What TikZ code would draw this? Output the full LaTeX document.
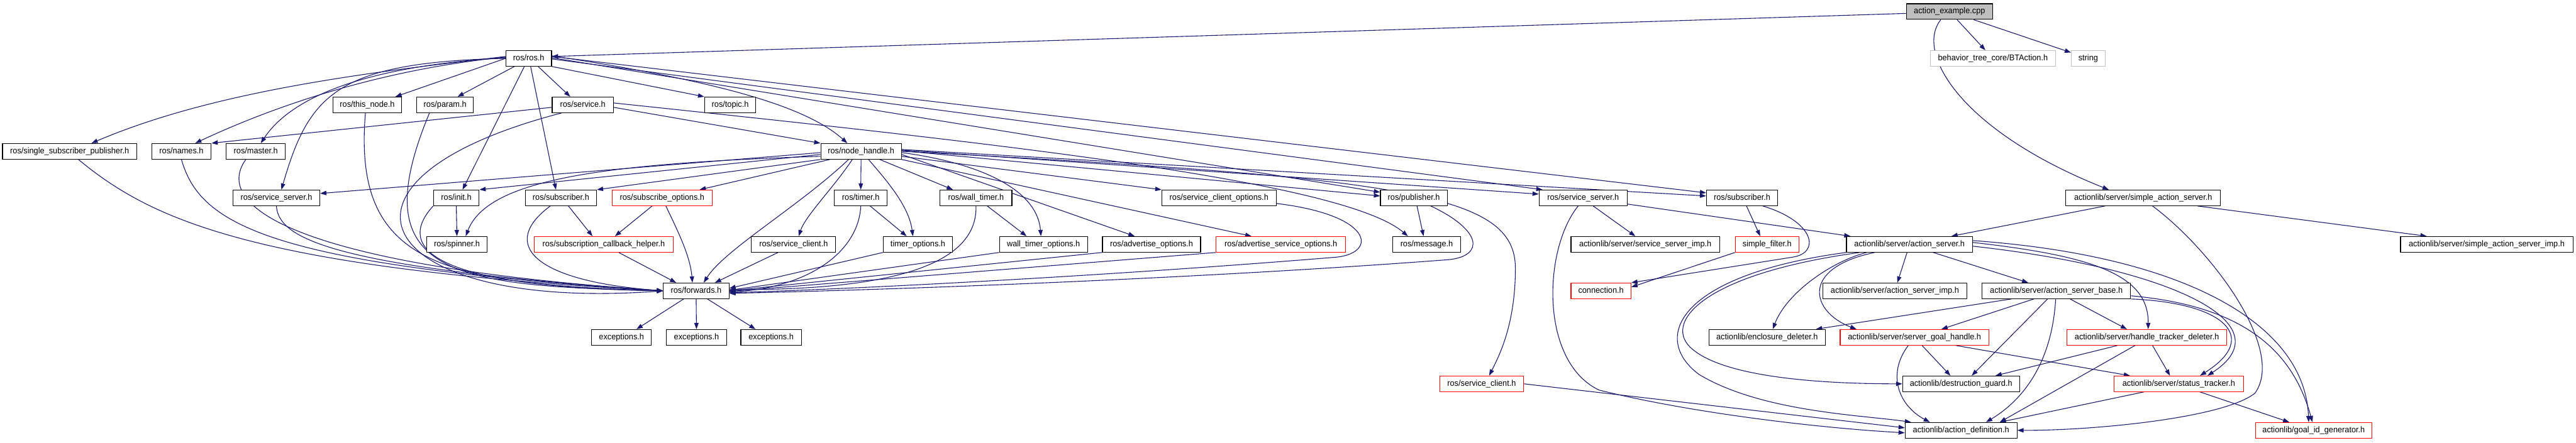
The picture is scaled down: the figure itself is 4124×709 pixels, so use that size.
\documentclass[tikz,border=0pt]{standalone}
\usepackage{fontspec}
\setmainfont{Liberation Sans}[FakeStretch=0.95]
\usetikzlibrary{arrows.meta}
\definecolor{edgeblue}{HTML}{191970}
\definecolor{rootgray}{HTML}{BFBFBF}
\definecolor{nodered}{HTML}{FF0000}
\pgfdeclarelayer{bg}
\pgfsetlayers{bg,main}
\begin{document}
\begin{tikzpicture}[x=1pt,y=-1pt,
  box/.style={draw=black, line width=1.1pt, fill=white, minimum height=25pt, inner sep=0pt,
    font=\fontsize{13.5pt}{16pt}\selectfont, text height=10pt, text depth=3pt},
  redbox/.style={box, draw=nodered},
  graybox/.style={box, draw=rootgray},
  rootbox/.style={box, fill=rootgray},
  e/.style={draw=edgeblue, line width=1.1pt, -{Triangle[length=10pt,width=7pt]}}]
\useasboundingbox (0,0) rectangle (4124,709);
% row 0
\node[rootbox, minimum width=138pt] (ex) at (3121,18.5) {action\_example.cpp};
% row 1
\node[box, minimum width=73pt] (ros) at (846.5,93.5) {ros/ros.h};
\node[graybox, minimum width=201pt] (bt) at (3190.5,93.5) {behavior\_tree\_core/BTAction.h};
\node[graybox, minimum width=54pt] (str) at (3343,93.5) {string};
% row 2
\node[box, minimum width=110pt] (thisnode) at (588,168) {ros/this\_node.h};
\node[box, minimum width=91pt] (param) at (712.5,168) {ros/param.h};
\node[box, minimum width=98pt] (service) at (933,168) {ros/service.h};
\node[box, minimum width=82pt] (topic) at (1169,168) {ros/topic.h};
% row 3
\node[box, minimum width=215pt] (ssp) at (111.5,242.5) {ros/single\_subscriber\_publisher.h};
\node[box, minimum width=95pt] (names) at (290.5,242.5) {ros/names.h};
\node[box, minimum width=95pt] (master) at (409.5,242.5) {ros/master.h};
\node[box, minimum width=129pt] (nh) at (1378.5,242.5) {ros/node\_handle.h};
% row 4
\node[box, minimum width=139pt] (ssl) at (442.5,317) {ros/service\_server.h};
\node[box, minimum width=73pt] (init) at (730.5,317) {ros/init.h};
\node[box, minimum width=114pt] (subl) at (898,317) {ros/subscriber.h};
\node[redbox, minimum width=160pt] (subopt) at (1060,317) {ros/subscribe\_options.h};
\node[box, minimum width=84pt] (timer) at (1378,317) {ros/timer.h};
\node[box, minimum width=115pt] (wtimer) at (1562.5,317) {ros/wall\_timer.h};
\node[box, minimum width=183pt] (sco) at (1951.5,317) {ros/service\_client\_options.h};
\node[box, minimum width=107pt] (pub) at (2263.5,317) {ros/publisher.h};
\node[box, minimum width=141pt] (ssr) at (2534.5,317) {ros/service\_server.h};
\node[box, minimum width=114pt] (subr) at (2789,317) {ros/subscriber.h};
\node[box, minimum width=248pt] (sas) at (3431,317) {actionlib/server/simple\_action\_server.h};
% row 5
\node[box, minimum width=97pt] (spinner) at (731.5,391.5) {ros/spinner.h};
\node[redbox, minimum width=223pt] (sch) at (966.5,391.5) {ros/subscription\_callback\_helper.h};
\node[box, minimum width=135pt] (scl) at (1270.5,391.5) {ros/service\_client.h};
\node[box, minimum width=111pt] (topt) at (1469.5,391.5) {timer\_options.h};
\node[box, minimum width=141pt] (wtopt) at (1670.5,391.5) {wall\_timer\_options.h};
\node[box, minimum width=157pt] (aopt) at (1843.5,391.5) {ros/advertise\_options.h};
\node[redbox, minimum width=207pt] (asopt) at (2050.5,391.5) {ros/advertise\_service\_options.h};
\node[box, minimum width=108pt] (msg) at (2284,391.5) {ros/message.h};
\node[box, minimum width=238pt] (ssimp) at (2634,391.5) {actionlib/server/service\_server\_imp.h};
\node[redbox, minimum width=102pt] (sfilter) at (2829,391.5) {simple\_filter.h};
\node[box, minimum width=202pt] (as) at (3057,391.5) {actionlib/server/action\_server.h};
\node[box, minimum width=276pt] (sasimp) at (3981,391.5) {actionlib/server/simple\_action\_server\_imp.h};
% row 6
\node[box, minimum width=105pt] (fwd) at (1114.5,466) {ros/forwards.h};
\node[redbox, minimum width=96pt] (conn) at (2563,466) {connection.h};
\node[box, minimum width=231pt] (asimp) at (3033.5,466) {actionlib/server/action\_server\_imp.h};
\node[box, minimum width=238pt] (asbase) at (3292,466) {actionlib/server/action\_server\_base.h};
% row 7
\node[box, minimum width=96pt] (exc1) at (995,540.5) {exceptions.h};
\node[box, minimum width=96pt] (exc2) at (1115,540.5) {exceptions.h};
\node[box, minimum width=97pt] (exc3) at (1234.5,540.5) {exceptions.h};
\node[box, minimum width=186pt] (encl) at (2829,540.5) {actionlib/enclosure\_deleter.h};
\node[redbox, minimum width=238pt] (sgh) at (3065,540.5) {actionlib/server/server\_goal\_handle.h};
\node[redbox, minimum width=256pt] (htd) at (3437,540.5) {actionlib/server/handle\_tracker\_deleter.h};
% row 8
\node[redbox, minimum width=134pt] (scr) at (2372,615) {ros/service\_client.h};
\node[box, minimum width=187pt] (dguard) at (3139.5,615) {actionlib/destruction\_guard.h};
\node[redbox, minimum width=208pt] (stat) at (3488,615) {actionlib/server/status\_tracker.h};
% row 9
\node[box, minimum width=179pt] (adef) at (3139.5,689.5) {actionlib/action\_definition.h};
\node[redbox, minimum width=186pt] (gid) at (3704,689.5) {actionlib/goal\_id\_generator.h};

\begin{pgfonlayer}{bg}
% root
\draw[e] ([yshift=-3]ex.west) -- ([yshift=3]ros.east);
\draw[e] (ex) -- (bt);
\draw[e] (ex) -- (str);
\draw[e] ([xshift=-14]ex.south) .. controls (3065,85) and (3140,210) .. ([xshift=-55]sas.north);
% ros.h
\draw[e] (ros.west) -- ([xshift=45]thisnode.north);
\draw[e] ([xshift=-23]ros.south) -- ([xshift=20]param.north);
\draw[e] ([xshift=15]ros.south) -- ([xshift=-20]service.north);
\draw[e] (ros.south east) -- (topic.north west);
\draw[e] ([yshift=4]ros.east) .. controls (1150,130) and (1290,170) .. ([xshift=-22]nh.north);
\draw[e] ([yshift=3]ros.west) .. controls (600,115) and (347,144) .. ([xshift=35]ssp.north);
\draw[e] ([yshift=2]ros.west) .. controls (620,110) and (450,165) .. ([xshift=22]names.north);
\draw[e] ([yshift=1]ros.west) .. controls (600,105) and (470,150) .. ([xshift=8]master.north);
\draw[e] (ros.west) .. controls (540,100) and (495,150) .. ([xshift=8]ssl.north);
\draw[e] ([xshift=-7]ros.south) -- ([xshift=10]init.north);
\draw[e] ([xshift=3]ros.south) -- ([xshift=-8]subl.north);
\draw[e] ([yshift=1]ros.east) -- ([yshift=9]pub.west);
\draw[e] ([yshift=-1]ros.east) -- ([xshift=6]ssr.north west);
\draw[e] ([yshift=3]ros.east) -- ([yshift=8]subr.west);
% service.h
\draw[e] ([yshift=-4]service.west) -- (names.north east);
\draw[e] ([yshift=-4]service.east) -- (nh.north west);
\draw[e] ([yshift=3]service.east) .. controls (1600,230) and (2150,290) .. ([xshift=-30]msg.north);
\draw[e] ([xshift=-34]service.south) .. controls (480,290) and (600,500) .. (fwd.west);
% node_handle
\draw[e] ([yshift=-2]nh.west) -- ([yshift=7]ssl.east);
\draw[e] ([yshift=-5]nh.west) -- (init.north east);
\draw[e] ([yshift=-8]nh.west) .. controls (950,262) and (780,290) .. ([xshift=14]spinner.north);
\draw[e] (nh.south west) -- (subl.north east);
\draw[e] ([xshift=15]nh.south west) -- ([xshift=60]subopt.north);
\draw[e] ([xshift=-20]nh.south) .. controls (1280,330) and (1160,400) .. ([xshift=12]fwd.north);
\draw[e] ([xshift=-14]nh.south) .. controls (1335,300) and (1290,345) .. ([xshift=8]scl.north);
\draw[e] (nh.south) -- (timer.north);
\draw[e] ([xshift=12]nh.south) .. controls (1420,290) and (1455,330) .. ([xshift=-8]topt.north);
\draw[e] ([xshift=30]nh.south) -- ([xshift=-37]wtimer.north);
\draw[e] ([yshift=-2]nh.east) .. controls (1560,260) and (1660,300) .. ([xshift=-4]wtopt.north);
\draw[e] ([yshift=-5]nh.east) -- ([xshift=-27]aopt.north);
\draw[e] (nh.south east) -- ([xshift=-47]asopt.north);
\draw[e] ([yshift=-8]nh.east) -- (sco.north west);
\draw[e] ([yshift=1]nh.east) -- ([yshift=3]pub.west);
\draw[e] ([yshift=2]nh.east) -- ([yshift=6]ssr.west);
\draw[e] ([yshift=3]nh.east) -- ([yshift=3]subr.west);
\draw[e] (nh.east) .. controls (2250,285) and (2426,310) .. (2426,430) .. controls (2426,520) and (2400,570) .. ([xshift=12]scr.north);
% into forwards from the left
\draw[e] ([xshift=14]ssp.south) .. controls (240,350) and (400,430) .. (fwd.west);
\draw[e] (names.south) .. controls (320,360) and (430,425) .. (fwd.west);
\draw[e] ([xshift=-16]master.south) .. controls (340,330) and (470,425) .. (fwd.west);
\draw[e] (ssl.south) .. controls (446,380) and (520,428) .. (fwd.west);
\draw[e] ([xshift=-3]thisnode.south) .. controls (565,420) and (700,455) .. (fwd.west);
\draw[e] ([xshift=-25]param.south) .. controls (580,440) and (720,458) .. (fwd.west);
\draw[e] (init.south west) .. controls (630,400) and (700,460) .. (fwd.west);
\draw[e] ([xshift=-17]subl.south) .. controls (800,390) and (850,450) .. (fwd.west);
\draw[e] (init.south) -- (spinner.north);
\draw[e] ([xshift=12]subl.south) -- ([xshift=-18]sch.north);
\draw[e] ([xshift=-16]subopt.south) -- ([xshift=18]sch.north);
\draw[e] ([xshift=6]subopt.south) .. controls (1085,370) and (1105,410) .. ([xshift=-6]fwd.north);
\draw[e] ([xshift=24]sch.south) -- ([xshift=-32]fwd.north);
\draw[e] ([xshift=-25]scl.south) -- ([xshift=30]fwd.north);
% into forwards from the right
\draw[e] (timer.south) .. controls (1375,400) and (1300,460) .. ([yshift=-2]fwd.east);
\draw[e] ([xshift=15]timer.south) -- ([xshift=-18]topt.north);
\draw[e] (topt.south west) -- ([yshift=4]fwd.east);
\draw[e] (wtimer.south) .. controls (1565,420) and (1440,465) .. ([yshift=2]fwd.east);
\draw[e] ([xshift=18]wtimer.south) -- ([xshift=-27]wtopt.north);
\draw[e] (wtopt.south west) -- ([yshift=1]fwd.east);
\draw[e] (aopt.south west) -- (fwd.east);
\draw[e] (asopt.south west) -- ([yshift=-1]fwd.east);
\draw[e] ([yshift=-9]sco.east) .. controls (2200,345) and (2205,405) .. (2140,412) .. controls (1800,440) and (1400,462) .. ([yshift=-3]fwd.east);
\draw[e] ([xshift=27]pub.south) .. controls (2375,370) and (2375,410) .. (2320,416) .. controls (1900,448) and (1400,465) .. ([yshift=-4]fwd.east);
\draw[e] ([xshift=5]pub.south) -- ([xshift=-5]msg.north);
% forwards -> exceptions
\draw[e] ([xshift=-20]fwd.south) -- ([xshift=24]exc1.north);
\draw[e] (fwd.south) -- (exc2.north);
\draw[e] ([xshift=18]fwd.south) -- ([xshift=-25]exc3.north);
% right cluster
\draw[e] ([xshift=7]subr.south) -- ([xshift=-11]sfilter.north);
\draw[e] ([xshift=33]subr.south) .. controls (2905,355) and (2915,405) .. (2870,412) -- (conn.north east);
\draw[e] (sfilter.south west) -- ([yshift=6]conn.east);
\draw[e] ([xshift=16]ssr.south) -- ([xshift=-16]ssimp.north);
\draw[e] ([xshift=-8]ssr.south) .. controls (2470,400) and (2465,580) .. (2560,625) .. controls (2700,660) and (2900,685) .. ([yshift=-4]adef.west);
\draw[e] ([yshift=-10]ssr.east) -- ([xshift=7]as.north west);
\draw[e] (scr.east) -- ([yshift=4]adef.west);
\draw[e] ([xshift=-61]sas.south) -- ([xshift=67]as.north);
\draw[e] ([xshift=87]sas.south) -- ([xshift=-96]sasimp.north);
\draw[e] ([xshift=15]sas.south) .. controls (3540,400) and (3660,560) .. (3610,630) .. controls (3560,670) and (3350,690) .. (adef.east);
\draw[e] ([xshift=-4]as.south) -- ([xshift=4]asimp.north);
\draw[e] ([xshift=38]as.south) -- ([xshift=-45]asbase.north);
\draw[e] ([xshift=-69]as.south) .. controls (2930,420) and (2860,470) .. ([xshift=9]encl.north);
\draw[e] ([xshift=-56]as.south) .. controls (2880,430) and (2900,500) .. ([xshift=-93]sgh.north);
\draw[e] ([xshift=-80]as.south) .. controls (2720,440) and (2660,520) .. (2710,560) .. controls (2770,610) and (2950,615) .. (dguard.west);
\draw[e] (as.south west) .. controls (2690,440) and (2640,540) .. (2720,600) .. controls (2820,660) and (2980,665) .. ([xshift=-80]adef.north);
\draw[e] ([yshift=3]as.east) .. controls (3350,410) and (3440,440) .. ([xshift=2]htd.north);
\draw[e] ([yshift=-3]as.east) .. controls (3480,430) and (3660,520) .. ([xshift=46]stat.north);
\draw[e] ([yshift=6]as.east) .. controls (3500,410) and (3690,520) .. ([xshift=-8]gid.north);
\draw[e] ([xshift=-72]asbase.south) -- ([xshift=78]encl.north);
\draw[e] ([xshift=-36]asbase.south) -- ([xshift=43]sgh.north);
\draw[e] ([xshift=-14]asbase.south) -- ([xshift=17]dguard.north);
\draw[e] ([xshift=-1]asbase.south) .. controls (3285,580) and (3240,640) .. ([xshift=40]adef.north);
\draw[e] ([xshift=22]asbase.south) -- ([xshift=-32]htd.north);
\draw[e] (asbase.south east) .. controls (3560,485) and (3620,540) .. ([xshift=34]stat.north);
\draw[e] ([yshift=-8]asbase.east) .. controls (3590,490) and (3670,560) .. ([xshift=-2]gid.north);
\draw[e] ([xshift=12]sgh.south) -- ([xshift=-17]dguard.north);
\draw[e] ([xshift=-10]sgh.south) .. controls (3020,600) and (3040,650) .. ([xshift=-50]adef.north);
\draw[e] ([xshift=66]sgh.south) -- ([xshift=-78]stat.north);
\draw[e] ([xshift=-47]htd.south) -- ([xshift=55]dguard.north);
\draw[e] ([xshift=9]htd.south) -- ([xshift=-14]stat.north);
\draw[e] ([xshift=-19]htd.south) -- ([xshift=62]adef.north);
\draw[e] ([xshift=-56]stat.south) -- ([xshift=62]adef.north);
\draw[e] ([xshift=34]stat.south) -- ([xshift=-39]gid.north);
\end{pgfonlayer}
\end{tikzpicture}
\end{document}
